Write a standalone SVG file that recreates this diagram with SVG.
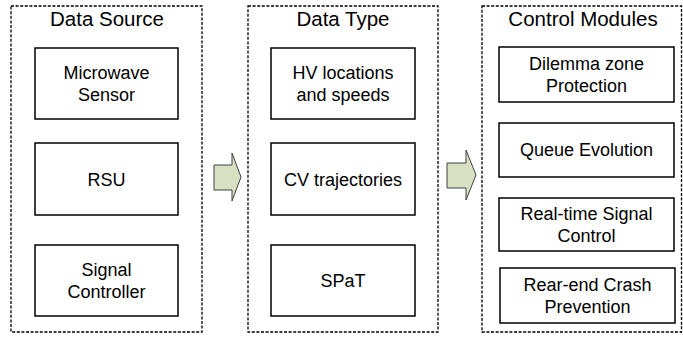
<svg xmlns="http://www.w3.org/2000/svg" width="683" height="344" viewBox="0 0 683 344">
<style>
.group{fill:#fff;stroke:#000;stroke-width:1.3;stroke-dasharray:3 1.6}
.box{fill:#fff;stroke:#000;stroke-width:1.5}
.title{font-family:"Liberation Sans",Arial,sans-serif;font-size:20.5px;fill:#000;text-anchor:middle}
.lbl{font-family:"Liberation Sans",Arial,sans-serif;font-size:18px;fill:#000;text-anchor:middle}
.arrow{fill:#d8e0c4;stroke:#404040;stroke-width:1}
</style>
<rect width="683" height="344" fill="#fff"/>
<g id="data-source">
<rect class="group" x="11" y="6" width="191" height="326"/>
<text class="title" x="107" y="26">Data Source</text>
</g>
<g id="microwave-sensor">
<rect class="box" x="35" y="48" width="143" height="71"/>
<text class="lbl" x="106.5" y="79">Microwave</text>
<text class="lbl" x="106.5" y="101">Sensor</text>
</g>
<g id="rsu">
<rect class="box" x="35" y="143" width="143" height="72"/>
<text class="lbl" x="106.5" y="185.5">RSU</text>
</g>
<g id="signal-controller">
<rect class="box" x="35" y="245" width="143" height="71"/>
<text class="lbl" x="106.5" y="276">Signal</text>
<text class="lbl" x="106.5" y="298">Controller</text>
</g>
<g id="data-type">
<rect class="group" x="248" y="6" width="190" height="326"/>
<text class="title" x="343" y="26">Data Type</text>
</g>
<g id="hv-locations">
<rect class="box" x="271" y="48" width="144" height="71"/>
<text class="lbl" x="343" y="79">HV locations</text>
<text class="lbl" x="343" y="101">and speeds</text>
</g>
<g id="cv-trajectories">
<rect class="box" x="271" y="143" width="144" height="72"/>
<text class="lbl" x="343" y="185.5">CV trajectories</text>
</g>
<g id="spat">
<rect class="box" x="271" y="245" width="144" height="71"/>
<text class="lbl" x="343" y="287">SPaT</text>
</g>
<g id="control-modules">
<rect class="group" x="482" y="6" width="199.5" height="326"/>
<text class="title" x="583" y="26">Control Modules</text>
</g>
<g id="dilemma-zone">
<rect class="box" x="499" y="47" width="175" height="55"/>
<text class="lbl" x="586.5" y="70">Dilemma zone</text>
<text class="lbl" x="586.5" y="92">Protection</text>
</g>
<g id="queue-evolution">
<rect class="box" x="499" y="123" width="175" height="54"/>
<text class="lbl" x="586.5" y="156">Queue Evolution</text>
</g>
<g id="real-time-signal">
<rect class="box" x="499" y="198" width="175" height="53"/>
<text class="lbl" x="586.5" y="220">Real-time Signal</text>
<text class="lbl" x="586.5" y="242">Control</text>
</g>
<g id="rear-end-crash">
<rect class="box" x="500" y="268" width="175" height="55"/>
<text class="lbl" x="587.5" y="291">Rear-end Crash</text>
<text class="lbl" x="587.5" y="313">Prevention</text>
</g>
<g id="connectors">
<path class="arrow" d="M214,165 H232 V153 L241,177 L232,201 V190 H214 Z"/>
<path class="arrow" d="M447,163 H466 V150 L476,175 L466,200 V188 H447 Z"/>
</g>
</svg>
